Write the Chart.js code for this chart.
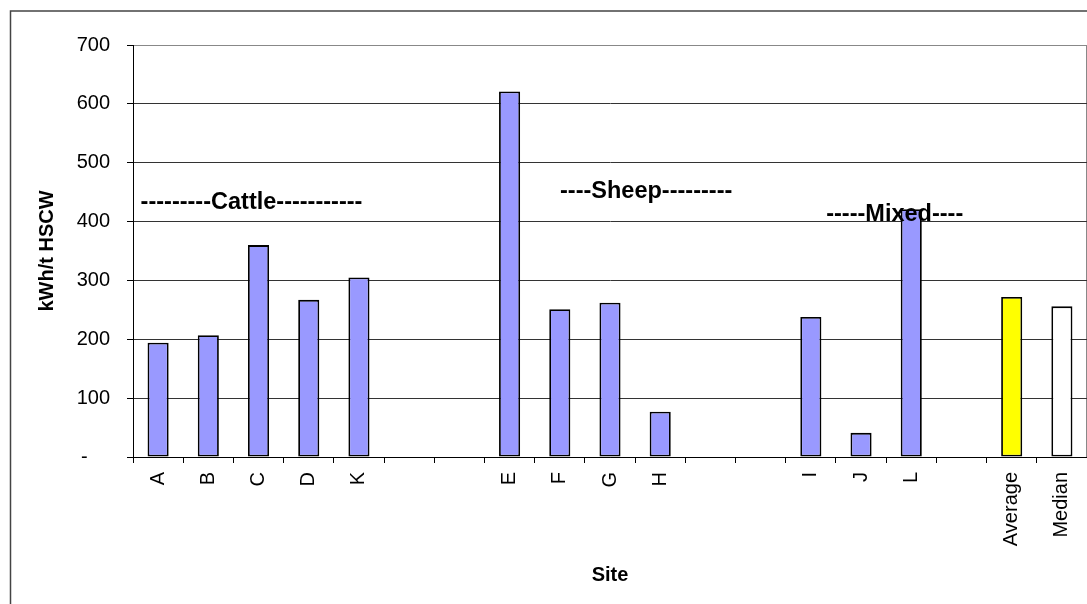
<!DOCTYPE html>
<html>
<head>
<meta charset="utf-8">
<script src="https://cdn.jsdelivr.net/npm/chart.js@4/dist/chart.umd.min.js"></script>
<style>
  html, body { margin: 0; padding: 0; background: #fff; }
  #wrap { width: 1087px; height: 604px; position: relative; }
</style>
</head>
<body>
<div id="wrap"><canvas id="myChart"></canvas></div>
<script>
// sites, grouped by farm type, blank slots between groups
const categories = ['A', 'B', 'C', 'D', 'K', '', '', 'E', 'F', 'G', 'H', '', '', 'I', 'J', 'L', '', 'Average', 'Median'];
const energyUse = [194, 207, 360, 267, 305, null, null, 621, 251, 262, 77, null, null, 238, 41, 421, null, 272, 256];
const yTicks = [0, 100, 200, 300, 400, 500, 600, 700];
const groupNames = ['---------Cattle-----------', '----Sheep---------', '-----Mixed----'];

const FONT = "'Liberation Sans', Arial, sans-serif";

function barFill(ctx) {
  const label = categories[ctx.dataIndex];
  if (label === 'Average') return '#FFFF00';
  if (label === 'Median') return '#FFFFFF';
  return '#9999FF';
}

// outer frame + plot frame, and the group captions
const decorations = {
  id: 'decorations',
  beforeDraw(chart) {
    const { ctx, chartArea: a } = chart;
    ctx.save();
    ctx.strokeStyle = '#444';
    ctx.lineWidth = 1.5;
    ctx.strokeRect(10.5, 11, chart.width + 20, chart.height + 20);
    ctx.strokeStyle = '#888';
    ctx.lineWidth = 1;
    ctx.strokeRect(a.left + 0.5, a.top + 0.5, a.right - a.left - 1, a.bottom - a.top);
    ctx.restore();
  },
  afterDatasetsDraw(chart) {
    const { ctx } = chart;
    const x = chart.scales.x;
    const y = chart.scales.y;
    // centre index / value of each caption
    const spots = [[1.86, 432], [9.72, 451], [14.67, 412]];
    ctx.save();
    ctx.font = 'bold 23.5px ' + FONT;
    ctx.fillStyle = '#000';
    ctx.textAlign = 'center';
    ctx.textBaseline = 'middle';
    groupNames.forEach((name, i) => {
      ctx.fillText(name, x.getPixelForValue(spots[i][0]), y.getPixelForValue(spots[i][1]));
    });
    ctx.restore();
  },
};

new Chart(document.getElementById('myChart').getContext('2d'), {
  type: 'bar',
  data: {
    labels: categories,
    datasets: [
      {
        data: energyUse,
        backgroundColor: barFill,
        borderColor: '#000',
        borderWidth: 1.8,
        borderSkipped: false,
        barPercentage: 0.42,
        categoryPercentage: 1,
      },
    ],
  },
  options: {
    responsive: true,
    maintainAspectRatio: false,
    animation: false,
    layout: { padding: { top: 45, left: 0, right: 0, bottom: 0 } },
    plugins: {
      legend: { display: false },
      tooltip: { enabled: false },
      title: { display: false },
    },
    scales: {
      x: {
        afterFit(scale) {
          scale.height = 147;
          scale.paddingLeft = 0;
          scale.paddingRight = 0;
        },
        grid: {
          offset: true,
          drawOnChartArea: false,
          drawTicks: true,
          tickLength: 6,
          color: '#000',
        },
        border: { color: '#000', width: 1 },
        ticks: {
          autoSkip: false,
          maxRotation: 90,
          minRotation: 90,
          padding: 9,
          color: '#000',
          font: { family: FONT, size: 20 },
        },
        title: {
          display: true,
          text: 'Site',
          color: '#000',
          font: { family: FONT, size: 20, weight: 'bold' },
          padding: { top: 0, bottom: 17 },
        },
      },
      y: {
        min: 0,
        max: 700,
        afterFit(scale) {
          scale.width = 133;
        },
        afterBuildTicks(scale) {
          scale.ticks = yTicks.map((v) => ({ value: v }));
        },
        grid: {
          color: (c) => (c.tick && c.tick.value === 700 ? '#888' : '#333'),
          tickColor: '#000',
          tickLength: 6,
        },
        border: { color: '#000', width: 1 },
        ticks: {
          padding: 17,
          color: '#000',
          font: { family: FONT, size: 20 },
          callback(value) {
            return value === 0 ? '-    ' : value;
          },
        },
        title: {
          display: true,
          text: 'kWh/t HSCW',
          color: '#000',
          font: { family: FONT, size: 20, weight: 'bold' },
          padding: { top: 35, bottom: 0 },
        },
      },
    },
  },
  plugins: [decorations],
});
</script>
</body>
</html>
